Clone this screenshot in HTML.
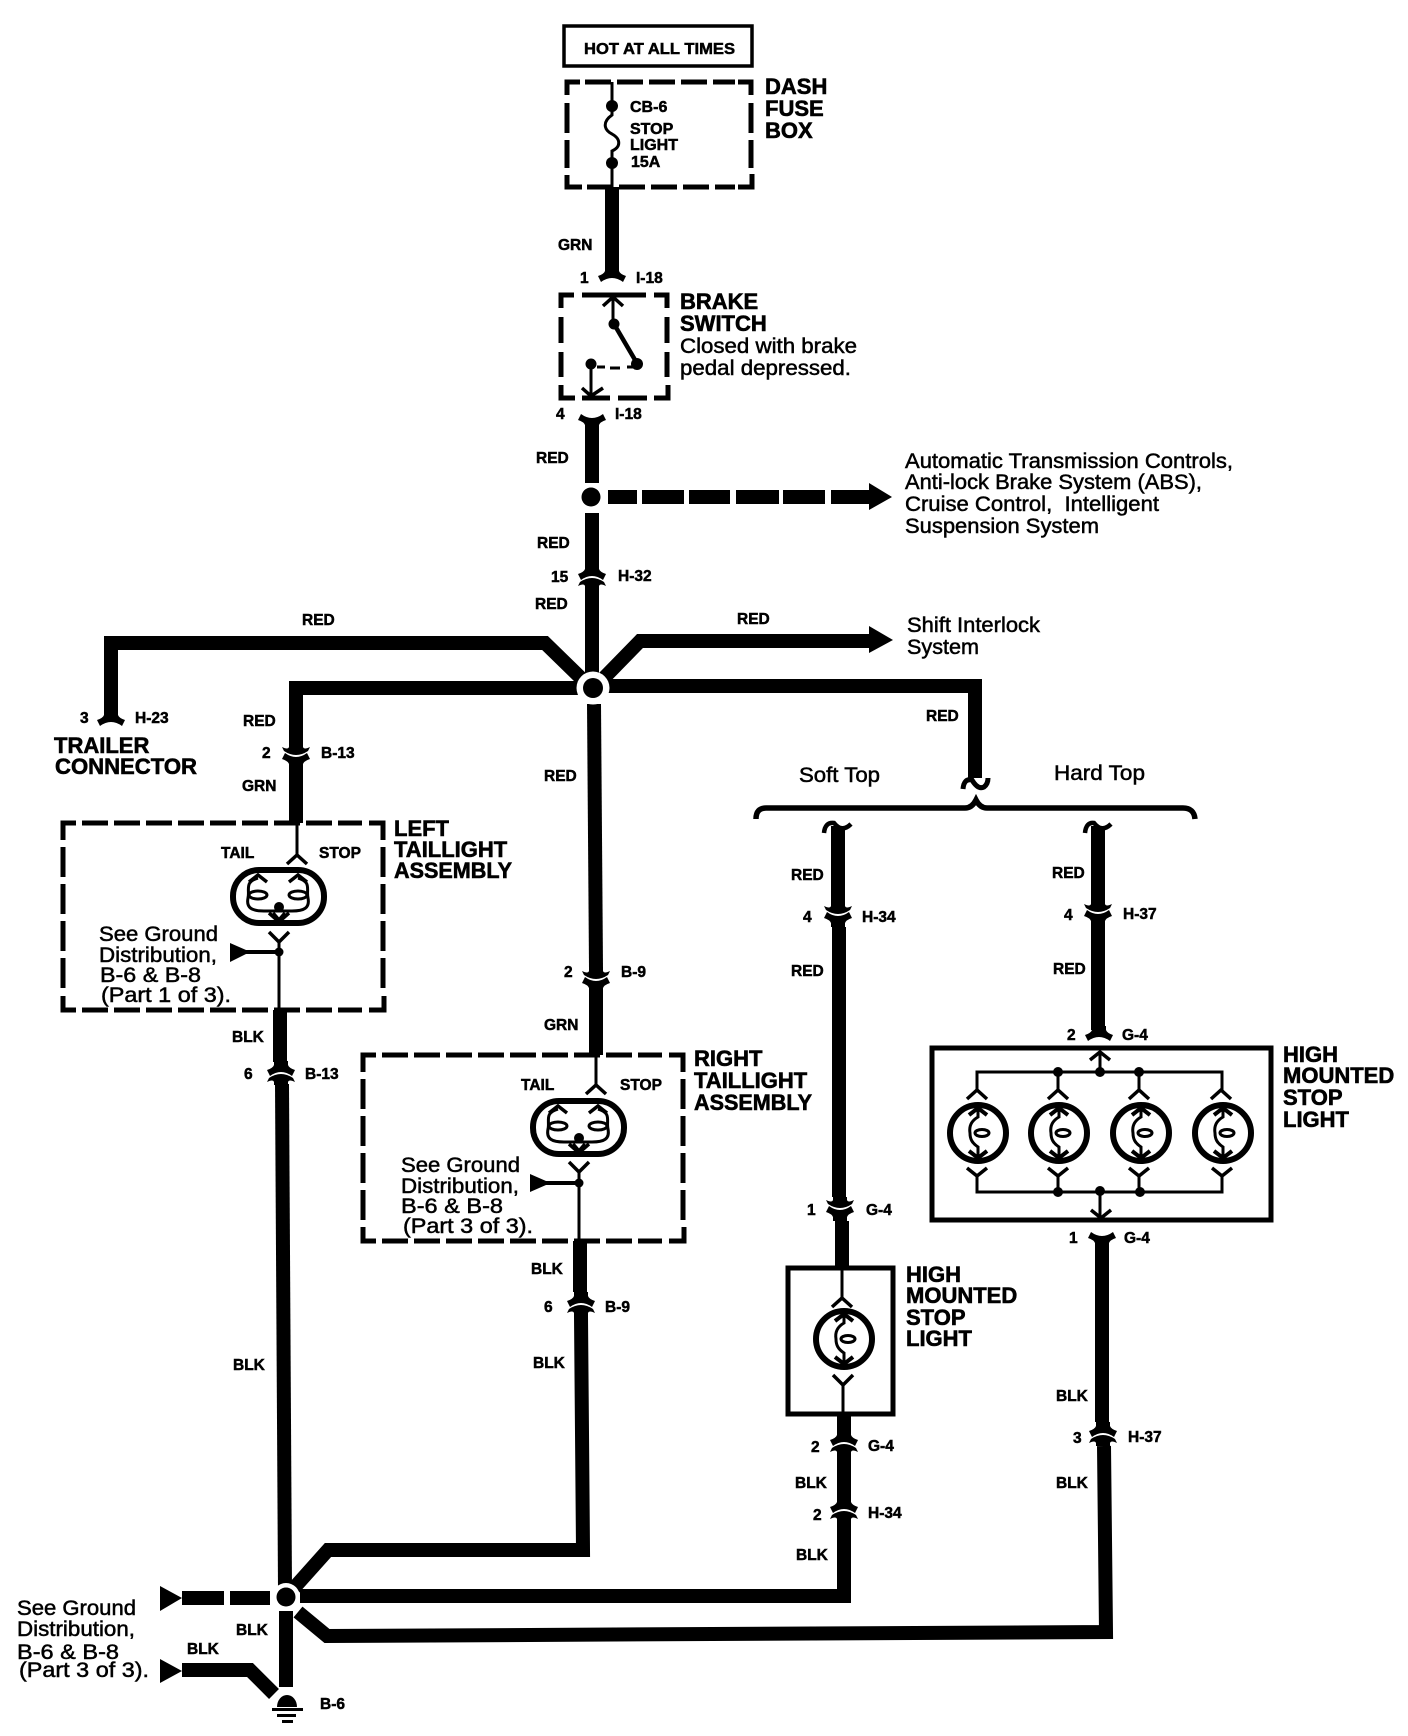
<!DOCTYPE html>
<html lang="en">
<head>
<meta charset="utf-8">
<title>Stop Light Wiring Diagram</title>
<style>
html,body{margin:0;padding:0;background:#fff;}
svg{display:block;}
text{font-family:"Liberation Sans",Arial,sans-serif;fill:#000;}
.s{font-size:15.5px;font-weight:bold;stroke:#000;stroke-width:.5px;}
.f{font-size:16px;font-weight:bold;stroke:#000;stroke-width:.5px;}
.l{font-size:22px;font-weight:bold;stroke:#000;stroke-width:.6px;}
.r{font-size:21px;stroke:#000;stroke-width:.5px;}
.w{fill:none;stroke:#000;stroke-width:14;stroke-linejoin:miter;}
.t{fill:none;stroke:#000;stroke-width:3;}
.m{fill:none;stroke:#000;stroke-width:5;}
.dh{fill:none;stroke:#000;stroke-width:5;stroke-dasharray:26 6;}
.dv{fill:none;stroke:#000;stroke-width:5;stroke-dasharray:30 7;}
</style>
</head>
<body>
<svg xmlns="http://www.w3.org/2000/svg" xmlns:xlink="http://www.w3.org/1999/xlink" width="1408" height="1736" viewBox="0 0 1408 1736">
<defs>
<path id="upT" d="M-7,-12 V-8 Q-8,-5 -14,-3 L-11,3 Q0,-5 11,3 L14,-3 Q8,-5 7,-8 V-12 Z"/>
<path id="upB" d="M-12,5 Q0,-3 12,5 L14,9 Q8,6 7,9 V12 H-7 V9 Q-8,6 -14,9 Z"/>
<g id="pair"><use xlink:href="#upT"/><use xlink:href="#upB"/></g>
<g id="bulb">
<circle r="28" fill="#fff" stroke="#000" stroke-width="6"/>
<path d="M-9,-18 L0,-25 L9,-18" fill="none" stroke="#000" stroke-width="4"/>
<path d="M-9,18 L0,25 L9,18" fill="none" stroke="#000" stroke-width="4"/>
<path class="t" d="M0,-24 V-16 C-7,-12 -9,-6 -8,0 C-8,6 -6,10 0,14 V24"/>
<ellipse cx="4" cy="0" rx="7" ry="3.5" fill="#fff" stroke="#000" stroke-width="3"/>
</g>
<g id="oval">
<rect x="-45" y="-26" width="91" height="53" rx="26" ry="26" fill="#fff" stroke="#000" stroke-width="6"/>
<path d="M-29,-14 L-20,-21 L-11,-14 M11,-14 L20,-21 L29,-14" fill="none" stroke="#000" stroke-width="3.5"/>
<path class="t" d="M-20,-18 C-34,-14 -28,-6 -30,2 C-32,12 -26,15 -14,15 H14 C26,15 32,12 30,2 C28,-6 34,-14 20,-18"/>
<ellipse cx="-20" cy="-1" rx="9" ry="4" fill="#fff" stroke="#000" stroke-width="3"/>
<ellipse cx="20" cy="-1" rx="9" ry="4" fill="#fff" stroke="#000" stroke-width="3"/>
<circle cx="1" cy="11" r="5"/>
<path d="M-9,17 L-1,24 M11,17 L3,24 M-5,17 L1,24 M7,17 L1,24" fill="none" stroke="#000" stroke-width="3.5"/>
</g>
</defs>

<!-- HOT AT ALL TIMES -->
<rect x="564" y="26" width="188" height="40" fill="none" stroke="#000" stroke-width="3.5"/>
<text class="f" x="584" y="54" textLength="151" lengthAdjust="spacingAndGlyphs">HOT AT ALL TIMES</text>

<!-- Dash fuse box -->
<path class="m" d="M567,95 V82 H580 M738,82 H751 V95 M567,175 V187 H582 M738,187 H752 V174"/>
<path class="dh" d="M585,82 H735"/>
<path class="dh" d="M587,187 H735"/>
<path class="dv" d="M567,103 V168"/>
<path class="dv" d="M751,103 V168"/>
<path class="t" d="M612,82 V106"/>
<path class="t" d="M612,106 V115 C602,122 604,130 612,134 C621,139 621,147 612,151 V187"/>
<circle cx="612" cy="106" r="6"/><circle cx="612" cy="163" r="6"/>
<text class="f" x="630" y="112">CB-6</text>
<text class="f" x="630" y="134">STOP</text>
<text class="f" x="630" y="150">LIGHT</text>
<text class="f" x="631" y="167">15A</text>
<text class="l" x="765" y="94">DASH</text>
<text class="l" x="765" y="116">FUSE</text>
<text class="l" x="765" y="138">BOX</text>

<!-- Main wire to brake switch -->
<path class="w" d="M612,187 V272"/>
<use xlink:href="#upT" x="612" y="279"/>
<text class="s" x="558" y="250">GRN</text>
<text class="s" x="580" y="283">1</text>
<text class="s" x="636" y="283">I-18</text>

<!-- Brake switch box -->
<path class="m" d="M561,308 V295 H574 M654,295 H667 V308 M561,385 V398 H575 M654,398 H668 V385"/>
<path class="m" d="M582,295 H646 M582,398 H610 M618,398 H647"/>
<path class="m" d="M561,317 V343 M561,352 V377 M667,317 V343 M667,352 V377"/>
<path d="M603,306 L613,297 L623,306" fill="none" stroke="#000" stroke-width="3.5"/>
<path class="t" d="M613,297 V324"/>
<circle cx="614" cy="324" r="5.5"/>
<path d="M614,324 L638,365" fill="none" stroke="#000" stroke-width="4.5"/>
<circle cx="637" cy="364" r="6"/>
<path class="t" d="M597,367 H605 M610,368 H620 M627,367 H634"/>
<circle cx="591" cy="364" r="5.5"/>
<path class="t" d="M591,364 V396"/>
<path d="M582,388 L591,396 L603,388" fill="none" stroke="#000" stroke-width="3.5"/>
<g transform="translate(592,417) scale(1,-1)"><use xlink:href="#upT"/></g>
<text class="l" x="680" y="309">BRAKE</text>
<text class="l" x="680" y="331">SWITCH</text>
<text class="r" x="680" y="353" textLength="177" lengthAdjust="spacingAndGlyphs">Closed with brake</text>
<text class="r" x="680" y="375" textLength="171" lengthAdjust="spacingAndGlyphs">pedal depressed.</text>
<text class="s" x="556" y="419">4</text>
<text class="s" x="615" y="419">I-18</text>

<!-- Center trunk -->
<path class="w" d="M592,425 V483"/>
<path class="w" d="M592,513 V570"/>
<path class="w" d="M592,585 V688"/>
<use xlink:href="#pair" x="592" y="577"/>
<circle cx="591" cy="497" r="9.5"/>
<path d="M608,490 H637 V504 H608 Z M642,490 H684 V504 H642 Z M689,490 H730 V504 H689 Z M736,490 H779 V504 H736 Z M783,490 H825 V504 H783 Z M831,490 H869 V483 L892,497 L869,510 V504 H831 Z"/>
<text class="s" x="536" y="463">RED</text>
<text class="s" x="537" y="548">RED</text>
<text class="s" x="551" y="582">15</text>
<text class="s" x="618" y="581">H-32</text>
<text class="s" x="535" y="609">RED</text>

<text class="r" x="905" y="468" textLength="328" lengthAdjust="spacingAndGlyphs">Automatic Transmission Controls,</text>
<text class="r" x="905" y="489" textLength="297" lengthAdjust="spacingAndGlyphs">Anti-lock Brake System (ABS),</text>
<text class="r" x="905" y="511" textLength="254" lengthAdjust="spacingAndGlyphs">Cruise Control,&#160; Intelligent</text>
<text class="r" x="905" y="533" textLength="194" lengthAdjust="spacingAndGlyphs">Suspension System</text>

<!-- Shift interlock branch -->
<path class="w" d="M600,682 L640,641 H870"/>
<path d="M869,626 L893,640 L869,653 Z"/>
<text class="s" x="737" y="624">RED</text>
<text class="r" x="907" y="632" textLength="133" lengthAdjust="spacingAndGlyphs">Shift Interlock</text>
<text class="r" x="907" y="654" textLength="72" lengthAdjust="spacingAndGlyphs">System</text>

<!-- Trailer branch -->
<path class="w" d="M585,682 L545,643 H111 V718"/>
<use xlink:href="#upT" x="111" y="723"/>
<text class="s" x="302" y="625">RED</text>
<text class="s" x="80" y="723">3</text>
<text class="s" x="135" y="723">H-23</text>
<text class="l" x="54" y="753">TRAILER</text>
<text class="l" x="55" y="774" textLength="142" lengthAdjust="spacingAndGlyphs">CONNECTOR</text>

<!-- Left taillight feed -->
<path class="w" d="M585,688 H296 V745"/>
<path class="w" d="M296,767 V823"/>
<g transform="translate(296,756) scale(1,-1)"><use xlink:href="#pair"/></g>
<text class="s" x="243" y="726">RED</text>
<text class="s" x="262" y="758">2</text>
<text class="s" x="321" y="758">B-13</text>
<text class="s" x="242" y="791">GRN</text>

<!-- Right branch to soft/hard top -->
<path class="w" d="M600,686 H975 V778"/>
<path d="M963,789 Q964,778 972,780 Q978,790 984,787 Q988,784 988,778" fill="none" stroke="#000" stroke-width="5"/>
<text class="s" x="926" y="721">RED</text>
<path d="M756,819 Q756,808 766,808 H965 Q972,808 976,800 Q980,808 987,808 H1183 Q1194,808 1195,819" fill="none" stroke="#000" stroke-width="5.5"/>
<text class="r" x="799" y="782" textLength="81" lengthAdjust="spacingAndGlyphs">Soft Top</text>
<text class="r" x="1054" y="780" textLength="91" lengthAdjust="spacingAndGlyphs">Hard Top</text>

<!-- Center wire to right taillight -->
<path class="w" d="M594,704 L596,968"/>
<path class="w" d="M596,992 V1055"/>
<g transform="translate(596,980) scale(1,-1)"><use xlink:href="#pair"/></g>
<text class="s" x="544" y="781">RED</text>
<text class="s" x="564" y="977">2</text>
<text class="s" x="621" y="977">B-9</text>
<text class="s" x="544" y="1030">GRN</text>

<!-- Junction 1 -->
<circle cx="593" cy="688" r="16.5" fill="#fff"/>
<circle cx="593" cy="688" r="10"/>

<!-- Left taillight box -->
<path class="m" d="M63,840 V823 H76 M369,823 H383 V840 M63,996 V1010 H76 M369,1010 H384 V996"/>
<path class="dh" d="M82,823 H362"/>
<path class="dh" d="M82,1010 H362"/>
<path class="dv" d="M63,847 V990"/>
<path class="dv" d="M383,847 V990"/>
<path class="t" d="M297,823 V856"/>
<path d="M287,864 L297,855 L307,864" fill="none" stroke="#000" stroke-width="3.5"/>
<use xlink:href="#oval" x="278" y="896"/>
<path d="M269,932 L279,942 L289,932" fill="none" stroke="#000" stroke-width="3.5"/>
<path class="t" d="M279,942 V1010"/>
<circle cx="279" cy="952" r="4.5"/>
<path d="M230,943 L246,950 H279 V954 H246 L230,962 Z"/>
<text class="s" x="221" y="858">TAIL</text>
<text class="s" x="319" y="858">STOP</text>
<text class="r" x="99" y="941" textLength="119" lengthAdjust="spacingAndGlyphs">See Ground</text>
<text class="r" x="99" y="962" textLength="118" lengthAdjust="spacingAndGlyphs">Distribution,</text>
<text class="r" x="100" y="982" textLength="101" lengthAdjust="spacingAndGlyphs">B-6 &amp; B-8</text>
<text class="r" x="101" y="1002" textLength="130" lengthAdjust="spacingAndGlyphs">(Part 1 of 3).</text>
<text class="l" x="394" y="836">LEFT</text>
<text class="l" x="394" y="857">TAILLIGHT</text>
<text class="l" x="394" y="878" textLength="118" lengthAdjust="spacingAndGlyphs">ASSEMBLY</text>
<path class="w" d="M280,1010 V1062"/>
<path class="w" d="M282,1084 L285,1590"/>
<use xlink:href="#pair" x="281" y="1073"/>
<text class="s" x="232" y="1042">BLK</text>
<text class="s" x="244" y="1079">6</text>
<text class="s" x="305" y="1079">B-13</text>
<text class="s" x="233" y="1370">BLK</text>

<!-- Right taillight box -->
<path class="m" d="M363,1072 V1055 H376 M669,1055 H683 V1072 M363,1227 V1241 H376 M669,1241 H684 V1227"/>
<path class="dh" d="M382,1055 H662"/>
<path class="dh" d="M382,1241 H662"/>
<path class="dv" d="M363,1079 V1222"/>
<path class="dv" d="M683,1079 V1222"/>
<path class="t" d="M596,1055 V1086"/>
<path d="M586,1094 L596,1085 L606,1094" fill="none" stroke="#000" stroke-width="3.5"/>
<use xlink:href="#oval" x="578" y="1127"/>
<path d="M569,1162 L579,1172 L589,1162" fill="none" stroke="#000" stroke-width="3.5"/>
<path class="t" d="M579,1172 V1241"/>
<circle cx="579" cy="1183" r="4.5"/>
<path d="M530,1174 L546,1181 H579 V1185 H546 L530,1192 Z"/>
<text class="s" x="521" y="1090">TAIL</text>
<text class="s" x="620" y="1090">STOP</text>
<text class="r" x="401" y="1172" textLength="119" lengthAdjust="spacingAndGlyphs">See Ground</text>
<text class="r" x="401" y="1193" textLength="118" lengthAdjust="spacingAndGlyphs">Distribution,</text>
<text class="r" x="401" y="1213" textLength="102" lengthAdjust="spacingAndGlyphs">B-6 &amp; B-8</text>
<text class="r" x="403" y="1233" textLength="130" lengthAdjust="spacingAndGlyphs">(Part 3 of 3).</text>
<text class="l" x="694" y="1066">RIGHT</text>
<text class="l" x="694" y="1088">TAILLIGHT</text>
<text class="l" x="694" y="1110" textLength="118" lengthAdjust="spacingAndGlyphs">ASSEMBLY</text>
<path class="w" d="M580,1241 V1292"/>
<path class="w" d="M581,1316 L583,1550 H328 L294,1588"/>
<use xlink:href="#pair" x="581" y="1304"/>
<text class="s" x="531" y="1274">BLK</text>
<text class="s" x="544" y="1312">6</text>
<text class="s" x="605" y="1312">B-9</text>
<text class="s" x="533" y="1368">BLK</text>

<!-- Soft top -->
<path d="M824,833 Q825,822 834,823 Q842,833 851,824" fill="none" stroke="#000" stroke-width="4.5"/>
<path class="w" d="M838,826 V903"/>
<g transform="translate(838,915) scale(1,-1)"><use xlink:href="#pair"/></g>
<path class="w" d="M839,927 V1197"/>
<g transform="translate(840,1209) scale(1,-1)"><use xlink:href="#pair"/></g>
<path class="w" d="M842,1221 V1268"/>
<text class="s" x="791" y="880">RED</text>
<text class="s" x="803" y="922">4</text>
<text class="s" x="862" y="922">H-34</text>
<text class="s" x="791" y="976">RED</text>
<text class="s" x="807" y="1215">1</text>
<text class="s" x="866" y="1215">G-4</text>
<rect x="788" y="1268" width="105" height="146" fill="#fff" stroke="#000" stroke-width="5"/>
<path class="t" d="M842,1268 V1298"/>
<path d="M832,1307 L842,1298 L852,1307" fill="none" stroke="#000" stroke-width="3.5"/>
<use xlink:href="#bulb" x="844" y="1339"/>
<path d="M833,1375 L843,1385 L853,1375" fill="none" stroke="#000" stroke-width="3.5"/>
<path class="t" d="M843,1385 V1414"/>
<text class="l" x="906" y="1282">HIGH</text>
<text class="l" x="906" y="1303">MOUNTED</text>
<text class="l" x="906" y="1325">STOP</text>
<text class="l" x="906" y="1346">LIGHT</text>
<path class="w" d="M844,1414 V1432"/>
<use xlink:href="#pair" x="844" y="1443"/>
<path class="w" d="M844,1455 V1498"/>
<use xlink:href="#pair" x="844" y="1510"/>
<text class="s" x="811" y="1452">2</text>
<text class="s" x="868" y="1451">G-4</text>
<text class="s" x="795" y="1488">BLK</text>
<text class="s" x="813" y="1520">2</text>
<text class="s" x="868" y="1518">H-34</text>
<text class="s" x="796" y="1560">BLK</text>
<path class="w" d="M300,1596 H844 V1522"/>

<!-- Hard top -->
<path d="M1085,833 Q1086,822 1094,823 Q1102,833 1111,824" fill="none" stroke="#000" stroke-width="4.5"/>
<path class="w" d="M1098,826 V901"/>
<g transform="translate(1098,913) scale(1,-1)"><use xlink:href="#pair"/></g>
<path class="w" d="M1098,925 V1030"/>
<use xlink:href="#upT" x="1099" y="1038"/>
<text class="s" x="1052" y="878">RED</text>
<text class="s" x="1064" y="920">4</text>
<text class="s" x="1123" y="919">H-37</text>
<text class="s" x="1053" y="974">RED</text>
<text class="s" x="1067" y="1040">2</text>
<text class="s" x="1122" y="1040">G-4</text>

<!-- Four-bulb box -->
<rect x="932" y="1048" width="339" height="172" fill="#fff" stroke="#000" stroke-width="5"/>
<path d="M1090,1060 L1100,1052 L1110,1060" fill="none" stroke="#000" stroke-width="3.5"/>
<path class="t" d="M1100,1052 V1072"/>
<path class="t" d="M977,1090 V1072 H1222 V1090"/>
<path class="t" d="M1058,1072 V1090 M1139,1072 V1090"/>
<circle cx="1058" cy="1072" r="5"/><circle cx="1100" cy="1072" r="5"/><circle cx="1139" cy="1072" r="5"/>
<path d="M967,1099 L977,1090 L987,1099 M1048,1099 L1058,1090 L1068,1099 M1129,1099 L1139,1090 L1149,1099 M1211,1099 L1221,1090 L1231,1099" fill="none" stroke="#000" stroke-width="3.5"/>
<use xlink:href="#bulb" x="978" y="1133"/>
<use xlink:href="#bulb" x="1059" y="1133"/>
<use xlink:href="#bulb" x="1141" y="1133"/>
<use xlink:href="#bulb" x="1223" y="1133"/>
<path d="M967,1168 L977,1176 L987,1168 M1048,1168 L1058,1176 L1068,1168 M1129,1168 L1139,1176 L1149,1168 M1212,1168 L1222,1176 L1232,1168" fill="none" stroke="#000" stroke-width="3.5"/>
<path class="t" d="M977,1176 V1192 H1222 V1176 M1058,1176 V1192 M1139,1176 V1192"/>
<circle cx="1058" cy="1192" r="5"/><circle cx="1100" cy="1191" r="5"/><circle cx="1140" cy="1192" r="5"/>
<path class="t" d="M1100,1191 V1218"/>
<path d="M1091,1210 L1101,1218 L1111,1210" fill="none" stroke="#000" stroke-width="3.5"/>
<text class="l" x="1283" y="1062">HIGH</text>
<text class="l" x="1283" y="1083">MOUNTED</text>
<text class="l" x="1283" y="1105">STOP</text>
<text class="l" x="1283" y="1127">LIGHT</text>
<g transform="translate(1102,1235) scale(1,-1)"><use xlink:href="#upT"/></g>
<path class="w" d="M1102,1243 V1422"/>
<use xlink:href="#pair" x="1103" y="1434"/>
<path class="w" d="M298,1612 L327,1636 L1106,1632 L1104,1446"/>
<text class="s" x="1069" y="1243">1</text>
<text class="s" x="1124" y="1243">G-4</text>
<text class="s" x="1056" y="1401">BLK</text>
<text class="s" x="1073" y="1443">3</text>
<text class="s" x="1128" y="1442">H-37</text>
<text class="s" x="1056" y="1488">BLK</text>

<!-- Ground junction -->
<path d="M160,1586 L182,1598 L160,1611 Z"/>
<path d="M182,1591 H224 V1605 H182 Z M230,1591 H270 V1605 H230 Z"/>
<circle cx="286" cy="1597" r="14" fill="#fff"/>
<circle cx="286" cy="1597" r="9.5"/>
<path class="w" d="M286,1611 V1687"/>
<path d="M160,1659 L182,1671 L160,1683 Z"/>
<path class="w" d="M182,1670 H250 L274,1694"/>
<path d="M277,1707 A10,12 0 0 1 297,1707 Z"/>
<path d="M272,1708 H303 V1711 H272 Z M277,1714 H296 V1717 H277 Z M282,1720 H293 V1723 H282 Z"/>
<text class="s" x="320" y="1709">B-6</text>
<text class="s" x="236" y="1635">BLK</text>
<text class="s" x="187" y="1654">BLK</text>
<text class="r" x="17" y="1615" textLength="119" lengthAdjust="spacingAndGlyphs">See Ground</text>
<text class="r" x="17" y="1636" textLength="118" lengthAdjust="spacingAndGlyphs">Distribution,</text>
<text class="r" x="17" y="1659" textLength="102" lengthAdjust="spacingAndGlyphs">B-6 &amp; B-8</text>
<text class="r" x="19" y="1677" textLength="130" lengthAdjust="spacingAndGlyphs">(Part 3 of 3).</text>
</svg>
</body>
</html>
